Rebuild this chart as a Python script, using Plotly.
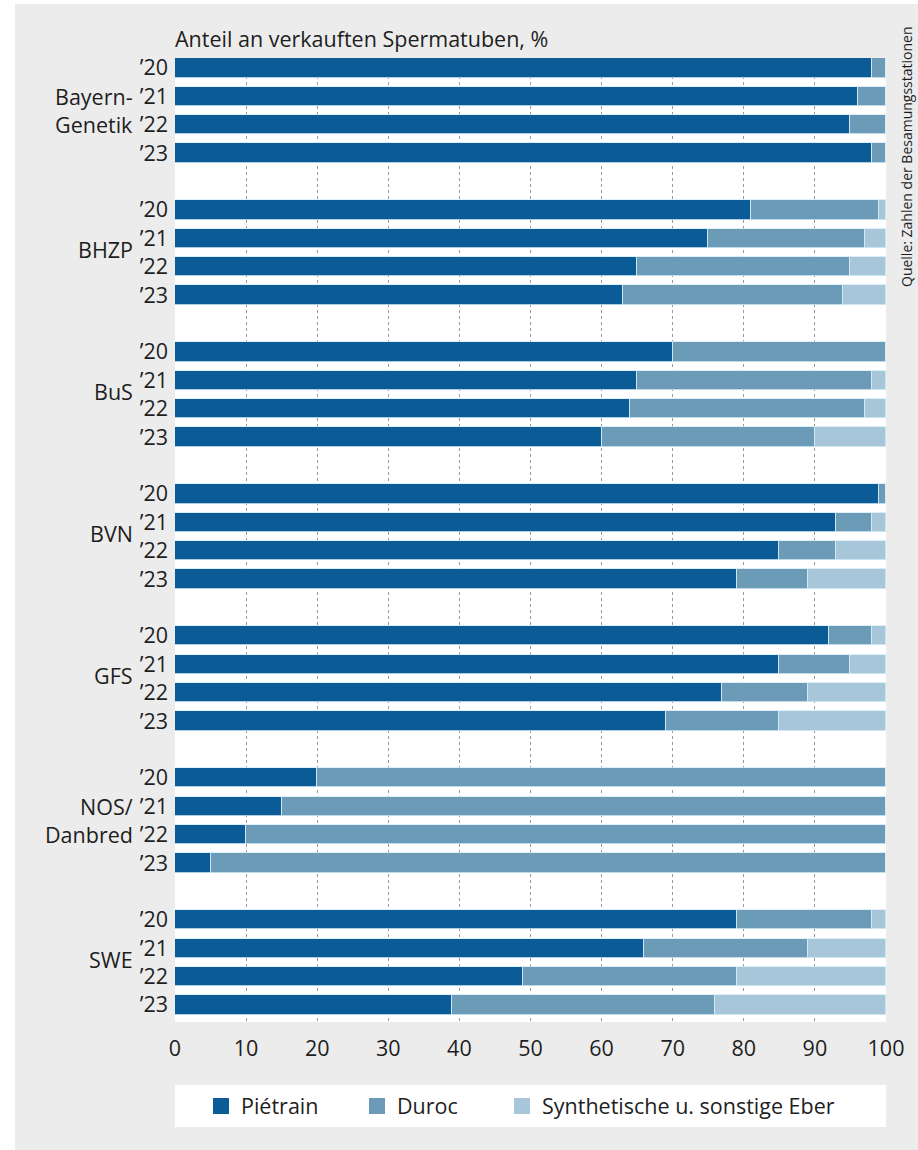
import plotly.graph_objects as go

# ---------------- data ----------------
groups = ["Bayern-Genetik", "BHZP", "BuS", "BVN", "GFS", "NOS/Danbred", "SWE"]
group_label_lines = [["Bayern-", "Genetik"], ["BHZP"], ["BuS"], ["BVN"], ["GFS"],
                     ["NOS/", "Danbred"], ["SWE"]]
years = ["’20", "’21", "’22", "’23"]

pietrain = [98, 96, 95, 98,  81, 75, 65, 63,  70, 65, 64, 60,  99, 93, 85, 79,
            92, 85, 77, 69,  20, 15, 10, 5,   79, 66, 49, 39]
duroc    = [2, 4, 5, 2,      18, 22, 30, 31,  30, 33, 33, 30,  1, 5, 8, 10,
            6, 10, 12, 16,   80, 85, 90, 95,  19, 23, 30, 37]
synth    = [0, 0, 0, 0,      1, 3, 5, 6,      0, 2, 3, 10,     0, 2, 7, 11,
            2, 5, 11, 15,    0, 0, 0, 0,      2, 11, 21, 24]

series_names = ["Piétrain", "Duroc", "Synthetische u. sonstige Eber"]
series_colors = ["#0a5b96", "#6b9bb6", "#a7c6da"]

x_ticks = list(range(0, 101, 10))
title_text = "Anteil an verkauften Spermatuben, %"
source_text = "Quelle: Zahlen der Besamungsstationen"

# ---------------- layout helpers ----------------
FONT = "Open Sans"
FS = 21.5
TXT = "#1e1e1e"
W, H = 918, 1150
L, R, T, B = 175, 918 - 886, 58, 1150 - 1022
PW, PH = W - L - R, H - T - B


def px_x(px):
    return (px - L) / PW


def px_y(py):
    return (H - B - py) / PH


slots_per_group = len(years) + 1
ypos, ytext = [], []
for g in range(len(groups)):
    for i, yr in enumerate(years):
        ypos.append(g * slots_per_group + i)
        ytext.append(yr)

legend_ids = ["legend", "legend2", "legend3"]
legend_left_px = [201, 357, 502]

fig = go.Figure()
for name, vals, col, lid in zip(series_names, [pietrain, duroc, synth],
                                series_colors, legend_ids):
    fig.add_trace(go.Bar(
        x=vals, y=ypos, orientation="h", name=name, width=0.68,
        marker=dict(color=col, line=dict(color="#d4ecf8", width=0.8)),
        showlegend=False, hoverinfo="x+name",
    ))
    # legend proxy with larger square symbol
    fig.add_trace(go.Scatter(
        x=[None], y=[None], mode="markers", name=name,
        marker=dict(symbol="square", size=18, color=col),
        showlegend=True, legend=lid,
    ))

annotations = []
for g, lines in enumerate(group_label_lines):
    if len(lines) == 1:
        ys = [g * slots_per_group + 1.4]
    else:
        ys = [g * slots_per_group + 1, g * slots_per_group + 2]
    for ln, yy in zip(lines, ys):
        annotations.append(dict(
            text=ln, x=px_x(135), xref="paper", y=yy, yref="y",
            xanchor="right", yanchor="middle", showarrow=False,
            font=dict(family=FONT, size=FS, color=TXT),
        ))

annotations.append(dict(
    text=title_text, x=0, xref="paper", y=px_y(38), yref="paper",
    xanchor="left", yanchor="middle", showarrow=False, xshift=-2,
    font=dict(family=FONT, size=FS, color=TXT),
))
annotations.append(dict(
    text=source_text, x=px_x(907), xref="paper", y=px_y(157), yref="paper",
    xanchor="center", yanchor="middle", showarrow=False, textangle=-90,
    font=dict(family=FONT, size=14, color=TXT),
))

shapes = [
    # white legend box
    dict(type="rect", xref="paper", yref="paper", x0=0, x1=1,
         y0=px_y(1127), y1=px_y(1085), fillcolor="white",
         line=dict(width=0), layer="below"),
    # white outer strips (left/top edge of the picture)
    dict(type="rect", xref="paper", yref="paper", x0=px_x(0), x1=px_x(15),
         y0=px_y(1150), y1=px_y(0), fillcolor="white",
         line=dict(width=0), layer="below"),
    dict(type="rect", xref="paper", yref="paper", x0=px_x(0), x1=px_x(918),
         y0=px_y(4), y1=px_y(0), fillcolor="white",
         line=dict(width=0), layer="below"),
]

legend_common = dict(
    orientation="h", yanchor="middle", xanchor="left", y=px_y(1106),
    bgcolor="rgba(0,0,0,0)", font=dict(family=FONT, size=FS, color=TXT),
    itemclick=False, itemdoubleclick=False,
)

fig.update_layout(
    width=W, height=H,
    margin=dict(l=L, r=R, t=T, b=B, pad=0),
    paper_bgcolor="#ececec", plot_bgcolor="white",
    barmode="stack", bargap=0,
    font=dict(family=FONT, size=FS, color=TXT),
    annotations=annotations, shapes=shapes,
    legend=dict(x=px_x(legend_left_px[0]), **legend_common),
    legend2=dict(x=px_x(legend_left_px[1]), **legend_common),
    legend3=dict(x=px_x(legend_left_px[2]), **legend_common),
    xaxis=dict(
        range=[0, 100], tickvals=x_ticks, ticktext=[str(v) for v in x_ticks],
        showgrid=True, gridcolor="#999999", gridwidth=1, griddash="dot",
        zeroline=False, showline=False, ticks="", ticklabelstandoff=11,
        tickfont=dict(family=FONT, size=FS, color=TXT), fixedrange=True,
    ),
    yaxis=dict(
        range=[33.6, -0.35], tickvals=ypos, ticktext=ytext,
        showgrid=False, zeroline=False, showline=False, ticks="",
        ticklabelstandoff=6, tickfont=dict(family=FONT, size=FS, color=TXT),
        fixedrange=True,
    ),
)

fig.write_html("out.html")
